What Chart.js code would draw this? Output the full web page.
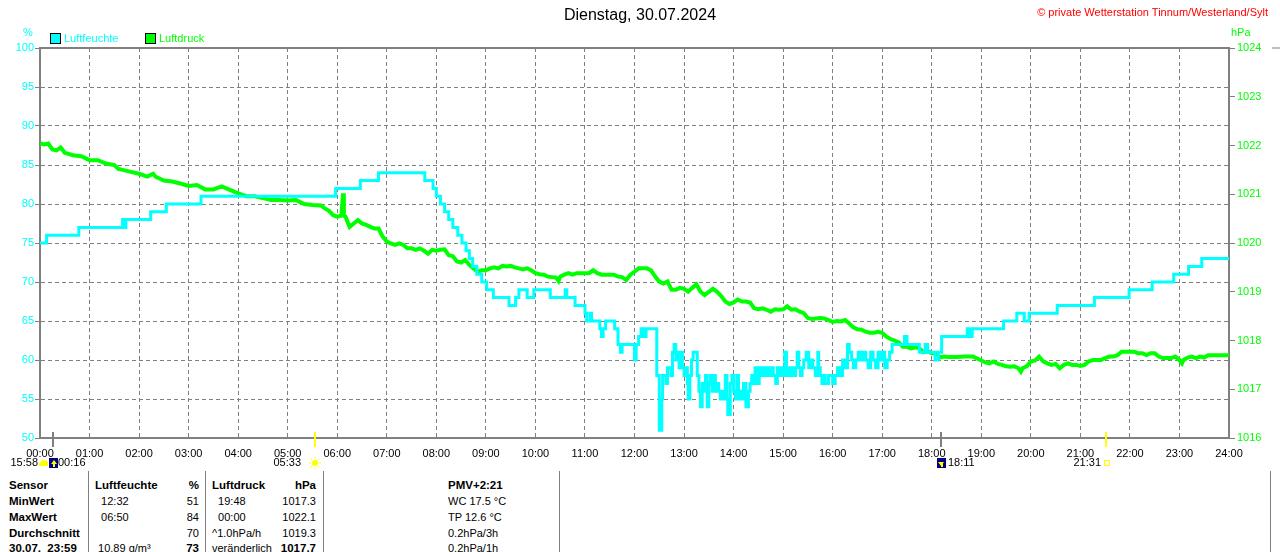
<!DOCTYPE html>
<html>
<head>
<meta charset="utf-8">
<script src="https://cdn.jsdelivr.net/npm/chart.js@4"></script>
<style>
  body { margin: 0; width: 1280px; height: 552px; overflow: hidden; background: #fff; font-family: "Liberation Sans", Arial, sans-serif; }
  #wrap { position: absolute; left: 0; top: 0; width: 1280px; height: 470px; }
  .t { position: absolute; font-size: 11px; line-height: 14px; white-space: pre; color: #000; }
  .b { font-weight: bold; font-size: 11.5px; }
  .sep { position: absolute; width: 1px; background: #808080; top: 471px; height: 81px; }
  .box { position: absolute; width: 9px; height: 9px; border: 1px solid #000; }
</style>
</head>
<body>
<div id="wrap"><canvas id="chart" width="1280" height="470"></canvas></div>

<div class="t" style="left:0;width:1280px;text-align:center;top:6px;font-size:16px;line-height:18px;">Dienstag, 30.07.2024</div>
<div class="t" style="right:12px;top:5px;color:#ff0000;">© private Wetterstation Tinnum/Westerland/Sylt</div>
<div class="t" style="left:23px;top:25px;color:#00ffff;">%</div>
<div class="t" style="left:1231px;top:25px;color:#00ff00;">hPa</div>
<div class="box" style="left:50px;top:33px;background:#00ffff;"></div>
<div class="t" style="left:64px;top:31px;color:#00ffff;">Luftfeuchte</div>
<div class="box" style="left:145px;top:33px;background:#00ff00;"></div>
<div class="t" style="left:159px;top:31px;color:#00ff00;">Luftdruck</div>
<div id="table"></div>

<script>
// Luftfeuchte (%), Wert gilt ab der Uhrzeit
var humTimes = [
  '00:00','00:08','00:47','01:40','01:42','01:44','02:14','02:33','03:15','05:58','06:28','06:50',
  '07:46','07:56','08:00','08:05','08:10','08:15','08:20','08:26','08:31','08:36','08:40','08:44',
  '08:49','08:55','09:01','09:09','09:28','09:36','09:40','09:50','09:58','10:18','10:36','10:38',
  '10:48','11:00','11:02','11:06','11:08','11:18','11:20','11:22','11:25','11:36','11:40','11:43',
  '11:45','12:00','12:02','12:05','12:08','12:11','12:14','12:27','12:30','12:33','12:34','12:38',
  '12:40','12:44','12:46','12:48','12:50','12:52','12:54','12:56','12:58','13:00','13:02','13:04',
  '13:05','13:07','13:09','13:11','13:16','13:18','13:20','13:22','13:24','13:26','13:28','13:30',
  '13:32','13:34','13:36','13:38','13:40','13:42','13:44','13:46','13:48','13:50','13:52','13:53',
  '13:56','13:58','14:00','14:02','14:04','14:06','14:08','14:10','14:12','14:15','14:18','14:20',
  '14:22','14:24','14:26','14:28','14:31','14:33','14:35','14:37','14:39','14:42','14:45','14:48',
  '14:51','14:53','14:55','14:57','15:00','15:02','15:04','15:06','15:09','15:11','15:13','15:15',
  '15:17','15:19','15:21','15:23','15:25','15:28','15:31','15:34','15:36','15:39','15:42','15:43',
  '15:45','15:47','15:49','15:51','15:55','16:00','16:03','16:06','16:09','16:12','16:15','16:18',
  '16:20','16:23','16:25','16:28','16:31','16:34','16:37','16:40','16:43','16:46','16:49','16:52',
  '16:55','16:58','17:00','17:03','17:06','17:09','17:12','17:27','17:30','17:45','17:52','17:55',
  '18:04','18:08','18:12','18:43','18:46','18:49','19:27','19:43','19:52','19:58','20:32','21:17',
  '21:59','22:27','22:53','23:11','23:27','24:00'
];
var humValues = [
  75, 76, 77, 78, 77, 78, 79, 80, 81, 82, 83, 84,
  83, 82, 81, 80, 79, 78, 77, 76, 75, 74, 73, 72,
  71, 70, 69, 68, 67, 68, 69, 68, 69, 68, 69, 68,
  67, 66, 65, 66, 65, 64, 63, 64, 65, 64, 62, 61,
  62, 60, 62, 63, 64, 63, 64, 58, 51, 55, 58, 57,
  59, 58, 61, 62, 60, 61, 59, 61, 59, 58, 59, 57,
  55, 58, 60, 61, 58, 56, 54, 57, 56, 58, 54, 57,
  58, 56, 58, 56, 57, 56, 55, 56, 55, 58, 55, 53,
  57, 58, 56, 55, 58, 55, 56, 55, 57, 54, 56, 57,
  58, 57, 59, 57, 59, 58, 59, 58, 59, 58, 59, 58,
  57, 59, 58, 59, 58, 61, 58, 59, 58, 59, 58, 59,
  61, 59, 58, 59, 60, 61, 59, 60, 59, 58, 61, 59,
  58, 57, 58, 57, 58, 57, 58, 59, 58, 60, 59, 62,
  61, 60, 59, 60, 61, 60, 61, 60, 59, 61, 60, 59,
  61, 60, 61, 59, 60, 61, 62, 63, 62, 61, 62, 61,
  60, 61, 63, 64, 63, 64, 65, 66, 65, 66, 67, 68,
  69, 70, 71, 72, 73, 73
];

// Luftdruck (hPa)
var presTimes = [
  '00:00','00:05','00:10','00:15','00:20','00:25','00:30','00:40','00:50','01:00','01:10','01:20',
  '01:30','01:35','01:40','01:50','02:00','02:10','02:17','02:20','02:30','02:40','02:50','03:00',
  '03:10','03:20','03:30','03:40','03:50','04:00','04:10','04:20','04:30','04:40','04:50','05:00',
  '05:10','05:20','05:30','05:40','05:45','05:50','05:55','06:00','06:05','06:07','06:08','06:10',
  '06:15','06:20','06:25','06:30','06:35','06:40','06:45','06:50','06:55','07:00','07:05','07:10',
  '07:15','07:20','07:25','07:30','07:35','07:40','07:45','07:50','07:55','08:00','08:05','08:10',
  '08:15','08:20','08:25','08:30','08:35','08:40','08:45','08:50','08:55','09:00','09:05','09:10',
  '09:15','09:20','09:25','09:30','09:35','09:40','09:45','09:50','09:55','10:00','10:05','10:10',
  '10:15','10:20','10:25','10:28','10:30','10:35','10:40','10:45','10:50','10:55','11:00','11:05',
  '11:10','11:15','11:20','11:25','11:30','11:35','11:40','11:45','11:50','11:55','12:00','12:05',
  '12:10','12:15','12:20','12:25','12:30','12:35','12:40','12:45','12:50','12:55','13:00','13:05',
  '13:10','13:15','13:20','13:25','13:30','13:35','13:40','13:45','13:50','13:55','14:00','14:05',
  '14:10','14:15','14:20','14:25','14:30','14:35','14:40','14:45','14:50','14:55','15:00','15:05',
  '15:10','15:15','15:20','15:25','15:30','15:35','15:40','15:45','15:50','15:55','16:00','16:05',
  '16:10','16:15','16:20','16:25','16:30','16:35','16:40','16:45','16:50','16:55','17:00','17:05',
  '17:10','17:15','17:20','17:25','17:30','17:35','17:40','17:45','17:50','17:55','18:00','18:05',
  '18:10','18:15','18:20','18:30','18:40','18:50','19:00','19:05','19:10','19:15','19:20','19:25',
  '19:30','19:35','19:40','19:45','19:48','19:50','19:55','20:00','20:05','20:10','20:15','20:20',
  '20:25','20:30','20:35','20:40','20:45','20:50','20:55','21:00','21:05','21:10','21:15','21:20',
  '21:25','21:30','21:35','21:40','21:45','21:50','21:55','22:00','22:05','22:10','22:15','22:20',
  '22:25','22:30','22:35','22:40','22:45','22:50','22:55','23:00','23:03','23:05','23:10','23:15',
  '23:20','23:25','23:30','23:35','23:40','23:50','24:00'
];
var presValues = [
  1022.05, 1022.02, 1022.04, 1021.92, 1021.90, 1021.96, 1021.85, 1021.80, 1021.78, 1021.70, 1021.70, 1021.63,
  1021.60, 1021.52, 1021.50, 1021.46, 1021.42, 1021.36, 1021.42, 1021.36, 1021.28, 1021.26, 1021.22, 1021.17,
  1021.19, 1021.10, 1021.10, 1021.16, 1021.09, 1021.02, 1020.96, 1020.96, 1020.92, 1020.88, 1020.88, 1020.87,
  1020.88, 1020.80, 1020.78, 1020.77, 1020.71, 1020.66, 1020.57, 1020.54, 1020.56, 1021.02, 1020.56, 1020.54,
  1020.33, 1020.40, 1020.47, 1020.40, 1020.37, 1020.33, 1020.30, 1020.30, 1020.13, 1020.03, 1019.99, 1019.96,
  1019.99, 1019.96, 1019.89, 1019.89, 1019.86, 1019.89, 1019.84, 1019.78, 1019.86, 1019.84, 1019.86, 1019.87,
  1019.75, 1019.73, 1019.62, 1019.60, 1019.65, 1019.55, 1019.48, 1019.41, 1019.44, 1019.44, 1019.48, 1019.50,
  1019.48, 1019.53, 1019.52, 1019.53, 1019.50, 1019.48, 1019.46, 1019.48, 1019.44, 1019.38, 1019.36, 1019.35,
  1019.31, 1019.30, 1019.29, 1019.22, 1019.31, 1019.35, 1019.38, 1019.35, 1019.38, 1019.38, 1019.38, 1019.38,
  1019.44, 1019.38, 1019.35, 1019.35, 1019.35, 1019.35, 1019.31, 1019.30, 1019.24, 1019.35, 1019.41, 1019.48,
  1019.48, 1019.48, 1019.44, 1019.31, 1019.21, 1019.17, 1019.21, 1019.04, 1019.04, 1019.08, 1019.06, 1019.00,
  1019.08, 1019.15, 1019.00, 1018.93, 1019.00, 1019.06, 1019.00, 1018.91, 1018.80, 1018.75, 1018.78, 1018.84,
  1018.80, 1018.80, 1018.78, 1018.66, 1018.64, 1018.66, 1018.63, 1018.59, 1018.64, 1018.63, 1018.64, 1018.70,
  1018.63, 1018.64, 1018.59, 1018.56, 1018.46, 1018.44, 1018.45, 1018.46, 1018.45, 1018.42, 1018.38, 1018.40,
  1018.39, 1018.42, 1018.35, 1018.27, 1018.23, 1018.22, 1018.18, 1018.16, 1018.16, 1018.18, 1018.16, 1018.08,
  1018.03, 1018.00, 1017.96, 1017.87, 1017.87, 1017.84, 1017.86, 1017.84, 1017.76, 1017.78, 1017.74, 1017.74,
  1017.65, 1017.67, 1017.66, 1017.66, 1017.67, 1017.67, 1017.59, 1017.55, 1017.53, 1017.57, 1017.52, 1017.50,
  1017.47, 1017.46, 1017.47, 1017.43, 1017.36, 1017.43, 1017.47, 1017.57, 1017.59, 1017.67, 1017.57, 1017.53,
  1017.50, 1017.52, 1017.43, 1017.50, 1017.53, 1017.50, 1017.50, 1017.48, 1017.50, 1017.57, 1017.60, 1017.60,
  1017.60, 1017.64, 1017.67, 1017.67, 1017.70, 1017.77, 1017.77, 1017.77, 1017.77, 1017.74, 1017.74, 1017.70,
  1017.74, 1017.74, 1017.67, 1017.64, 1017.64, 1017.64, 1017.67, 1017.60, 1017.53, 1017.60, 1017.65, 1017.67,
  1017.64, 1017.67, 1017.65, 1017.70, 1017.70, 1017.70, 1017.70
];

var hourLabels = [];
for (var h = 0; h <= 24; h++) hourLabels.push((h < 10 ? '0' : '') + h + ':00');

// Mond/Sonne Auf- und Untergang
var eventTimes = ['00:16', '05:33', '18:11', '21:31'];
var eventColors = ['#808080', '#ffff00', '#808080', '#ffff00'];

var tableRows = [
  [['Sensor', 1], ['Luftfeuchte', 1], ['%', 1], ['Luftdruck', 1], ['hPa', 1], ['PMV+2:21', 1]],
  [['MinWert', 1], ['  12:32', 0], ['51', 0], ['  19:48', 0], ['1017.3', 0], ['WC 17.5 °C', 0]],
  [['MaxWert', 1], ['  06:50', 0], ['84', 0], ['  00:00', 0], ['1022.1', 0], ['TP 12.6 °C', 0]],
  [['Durchschnitt', 1], ['', 0], ['70', 0], ['^1.0hPa/h', 0], ['1019.3', 0], ['0.2hPa/3h', 0]],
  [['30.07.  23:59', 1], [' 10.89 g/m³', 0], ['73', 1], ['veränderlich', 0], ['1017.7', 1], ['0.2hPa/1h', 0]]
];
var colX = [9, 95, 199, 212, 316, 448];
var colRight = [false, false, true, false, true, false];
var rowY = [485, 501, 517, 533, 548];
var sepX = [88, 205, 323, 559, 1270];

function toHours(t) {
  var p = t.split(':');
  return parseInt(p[0], 10) + parseInt(p[1], 10) / 60;
}

var humPoints = humTimes.map(function (t, i) { return { x: toHours(t), y: humValues[i] }; });
var presPoints = presTimes.map(function (t, i) { return { x: toHours(t), y: presValues[i] }; });

// Tabelle unter dem Diagramm
var table = document.getElementById('table');
tableRows.forEach(function (row, r) {
  row.forEach(function (cell, c) {
    var d = document.createElement('div');
    d.className = 't' + (cell[1] ? ' b' : '');
    d.textContent = cell[0];
    d.style.top = (rowY[r] - 7) + 'px';
    if (colRight[c]) d.style.right = (1280 - colX[c]) + 'px';
    else d.style.left = colX[c] + 'px';
    table.appendChild(d);
  });
});
sepX.forEach(function (x) {
  var s = document.createElement('div');
  s.className = 'sep';
  s.style.left = x + 'px';
  table.appendChild(s);
});

var font = { family: '"Liberation Sans", Arial, sans-serif', size: 11 };

function drawMoonBox(ctx, x, y, up) {
  ctx.fillStyle = '#000080';
  ctx.fillRect(x - 4, y - 5, 9, 10);
  ctx.fillStyle = '#ffff00';
  ctx.beginPath();
  if (up) { ctx.moveTo(x + 1, y - 3); ctx.lineTo(x - 2, y + 1); ctx.lineTo(x + 4, y + 1); }
  else { ctx.moveTo(x, y + 3); ctx.lineTo(x - 3, y - 1); ctx.lineTo(x + 3, y - 1); }
  ctx.fill();
  ctx.fillRect(x, y, 2, 4);
}

var framePlugin = {
  id: 'frame',
  afterDraw: function (chart) {
    var ctx = chart.ctx, area = chart.chartArea, xs = chart.scales.x;
    ctx.save();
    ctx.strokeStyle = '#808080';
    ctx.lineWidth = 2;
    ctx.beginPath();
    ctx.moveTo(area.left - 1, area.top);
    ctx.lineTo(area.right + 1, area.top);
    ctx.stroke();

    eventTimes.forEach(function (t, i) {
      var x = Math.round(xs.getPixelForValue(toHours(t)));
      ctx.strokeStyle = eventColors[i];
      ctx.lineWidth = 2;
      ctx.beginPath();
      ctx.moveTo(x, area.bottom - 6);
      ctx.lineTo(x, area.bottom + 9);
      ctx.stroke();
    });

    ctx.font = '11px "Liberation Sans", Arial, sans-serif';
    ctx.textBaseline = 'middle';
    ctx.fillStyle = '#000';
    var y = 463;
    var x0 = Math.round(xs.getPixelForValue(toHours(eventTimes[0])));
    ctx.textAlign = 'right';
    ctx.fillText('15:58', x0 - 15, y);
    ctx.fillStyle = '#ffff00';
    ctx.beginPath();
    ctx.arc(x0 - 9, y + 1, 4, Math.PI, 0);
    ctx.fill();
    ctx.fillRect(x0 - 14, y, 9, 3);
    drawMoonBox(ctx, x0, y, true);
    ctx.fillStyle = '#000';
    ctx.textAlign = 'left';
    ctx.fillText(eventTimes[0], x0 + 5, y);

    var x1 = Math.round(xs.getPixelForValue(toHours(eventTimes[1])));
    ctx.textAlign = 'right';
    ctx.fillText(eventTimes[1], x1 - 14, y);
    ctx.fillStyle = '#ffff00';
    ctx.beginPath();
    ctx.arc(x1, y, 3, 0, Math.PI * 2);
    ctx.fill();
    ctx.strokeStyle = '#ffff00';
    ctx.lineWidth = 1;
    for (var a = 0; a < 8; a++) {
      var ang = a * Math.PI / 4;
      ctx.beginPath();
      ctx.moveTo(x1 + Math.cos(ang) * 4, y + Math.sin(ang) * 4);
      ctx.lineTo(x1 + Math.cos(ang) * 6, y + Math.sin(ang) * 6);
      ctx.stroke();
    }

    var x2 = Math.round(xs.getPixelForValue(toHours(eventTimes[2])));
    drawMoonBox(ctx, x2, y, false);
    ctx.fillStyle = '#000';
    ctx.textAlign = 'left';
    ctx.fillText(eventTimes[2], x2 + 7, y);

    var x3 = Math.round(xs.getPixelForValue(toHours(eventTimes[3])));
    ctx.textAlign = 'right';
    ctx.fillText(eventTimes[3], x3 - 5, y);
    ctx.strokeStyle = '#ffff00';
    ctx.lineWidth = 1;
    ctx.strokeRect(x3 - 1.5, y - 2.5, 5, 5);

    // Rand des Nachbardiagramms rechts
    ctx.strokeStyle = '#808080';
    ctx.beginPath();
    ctx.moveTo(1272, area.top);
    ctx.lineTo(1280, area.top);
    ctx.stroke();
    ctx.restore();
  }
};

new Chart(document.getElementById('chart'), {
  type: 'line',
  data: {
    datasets: [{
      label: 'Luftfeuchte',
      data: humPoints,
      borderColor: '#00ffff',
      borderWidth: 3,
      stepped: true,
      pointRadius: 0,
      yAxisID: 'y',
      order: 0
    }, {
      label: 'Luftdruck',
      data: presPoints,
      borderColor: '#00ff00',
      borderWidth: 4,
      pointRadius: 0,
      tension: 0,
      yAxisID: 'y2',
      order: 1
    }]
  },
  options: {
    responsive: false,
    animation: false,
    events: [],
    layout: { padding: { top: 48, left: 0, right: 0, bottom: 0 } },
    plugins: {
      legend: { display: false },
      title: { display: false },
      tooltip: { enabled: false }
    },
    scales: {
      x: {
        type: 'linear',
        min: 0,
        max: 24,
        ticks: {
          stepSize: 1,
          autoSkip: false,
          maxRotation: 0,
          padding: 9,
          color: '#000',
          font: font,
          callback: function (v) { return hourLabels[v]; }
        },
        grid: { color: '#808080', drawTicks: false },
        border: { color: '#808080', width: 2, dash: [4, 3] },
        afterFit: function (s) { s.height = 32; }
      },
      y: {
        position: 'left',
        min: 50,
        max: 100,
        ticks: { stepSize: 5, padding: 1, color: '#00ffff', font: font, callback: function (v) { return String(v); } },
        grid: { color: '#808080', tickLength: 5 },
        border: { color: '#808080', width: 2, dash: [4, 3] },
        afterFit: function (s) { s.width = 40; }
      },
      y2: {
        position: 'right',
        min: 1016,
        max: 1024,
        ticks: { stepSize: 1, padding: 2, color: '#00ff00', font: font, callback: function (v) { return String(v); } },
        grid: { drawOnChartArea: false, color: '#808080', tickLength: 6 },
        border: { color: '#808080', width: 2 },
        afterFit: function (s) { s.width = 51; }
      }
    }
  },
  plugins: [framePlugin]
});
</script>
</body>
</html>
